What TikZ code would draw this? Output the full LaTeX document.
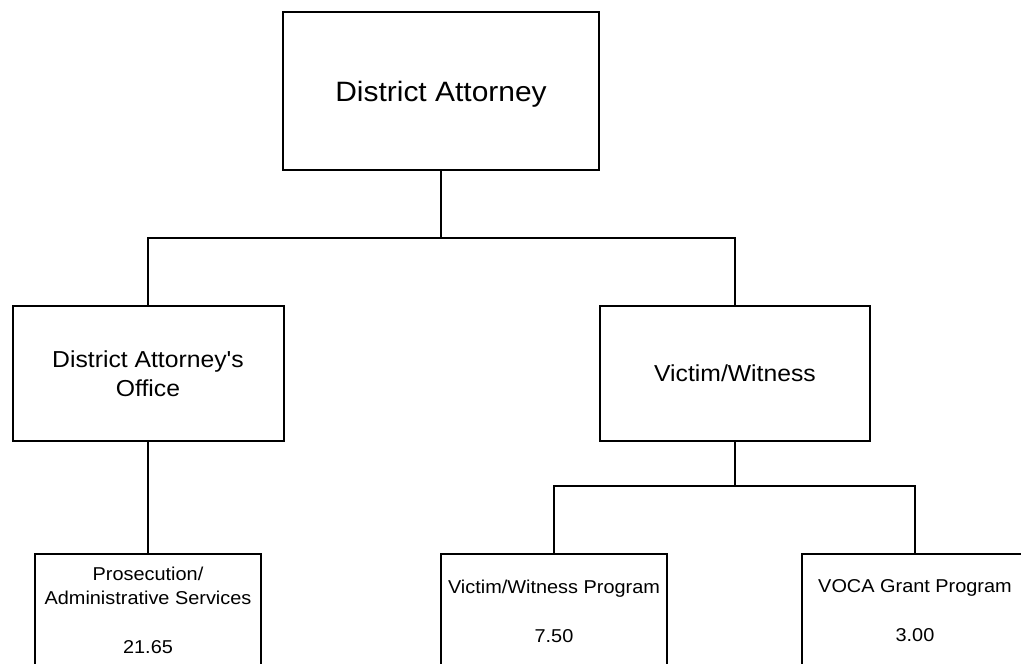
\documentclass[tikz,border=0pt]{standalone}
\usepackage{fontspec}
\newfontfamily\orgfont[FakeStretch=1.07]{Liberation Sans}
\begin{document}
\begin{tikzpicture}[x=1pt,y=-1pt,
  unit/.style={draw=black, line width=2pt, inner sep=0pt, align=center,
    minimum width=#1},
  toplabel/.style={font=\orgfont\fontsize{28}{32}\selectfont, text depth=0pt},
  midlabel/.style={font=\orgfont\fontsize{23.1}{29}\selectfont},
  lowlabel/.style={font=\orgfont\fontsize{18.6}{24.5}\selectfont,
    inner sep=0pt, align=center, anchor=north},
  link/.style={draw=black, line width=2pt}]
  \useasboundingbox[fill=white] (0,0) rectangle (1021,664);
  \clip (0,0) rectangle (1021,664);

  % top level
  \node[unit=316pt, minimum height=158pt, toplabel] (da) at (441,91)
    {District Attorney};

  % second level
  \node[unit=271pt, minimum height=135pt, midlabel] (dao) at (148,373.5)
    {District Attorney's\\Office};
  \node[unit=270pt, minimum height=135pt, midlabel] (vw) at (735,373.5)
    {Victim/Witness};

  % third level (boxes run past the lower edge)
  \node[unit=226pt, minimum height=135pt] (pas) at (148,621.5) {};
  \node[unit=226pt, minimum height=135pt] (vwp) at (554,621.5) {};
  \node[unit=226pt, minimum height=135pt] (voca) at (915,621.5) {};

  \node[lowlabel] (pasT) at (148,566.5) {Prosecution/\\Administrative Services\\[24.5pt]21.65};
  \node[lowlabel] (vwpT) at (554,579.5) {Victim/Witness Program\\[24.5pt]7.50};
  \node[lowlabel] (vocaT) at (915,579.5) {VOCA Grant Program\\[24.5pt]3.00};

  % connectors
  \coordinate (j1) at (441,238);
  \coordinate (j2) at (735,486);
  \draw[link] (da.south) -- (j1);
  \draw[link] (j1) -| (dao.north);
  \draw[link] (j1) -| (vw.north);
  \draw[link] (dao.south) -- (pas.north);
  \draw[link] (vw.south) -- (j2);
  \draw[link] (j2) -| (vwp.north);
  \draw[link] (j2) -| (voca.north);
\end{tikzpicture}
\end{document}
